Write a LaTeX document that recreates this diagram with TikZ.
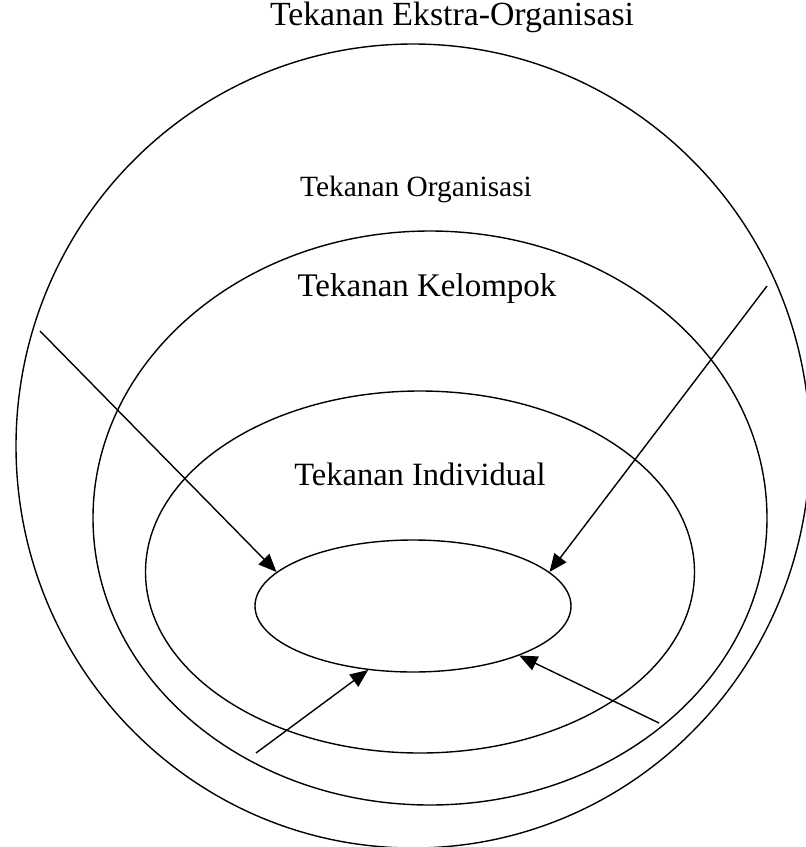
\documentclass[tikz,border=0pt]{standalone}
\usepackage{fontspec}
\setmainfont{Liberation Serif}
\usetikzlibrary{arrows.meta, shapes.geometric}

\begin{document}
\begin{tikzpicture}[
    x=1pt, y=-1pt,
    ring/.style={shape=ellipse, draw=black, line width=1.4pt, inner sep=0pt},
    lbl/.style={inner sep=0pt, font=\fontsize{32.5}{32.5}\selectfont},
    push/.style={line width=1.4pt, -{Triangle[length=18pt, width=15pt]}},
]
\useasboundingbox (0, 0) rectangle (806, 847);

\node[ring, minimum width=794, minimum height=804] (extra) at (413, 446) {};
\node[ring, minimum width=674, minimum height=574] (org) at (430, 518) {};
\node[ring, minimum width=549, minimum height=362] (group) at (420, 572) {};
\node[ring, minimum width=316, minimum height=132] (indiv) at (413, 606) {};

\node[lbl, font=\fontsize{33.8}{33.8}\selectfont] (textra) at (452, 17) {Tekanan Ekstra-Organisasi};
\node[lbl, font=\fontsize{29.4}{29.4}\selectfont] (torg) at (416, 189) {Tekanan Organisasi};
\node[lbl, font=\fontsize{33}{33}\selectfont] (tgroup) at (427, 289) {Tekanan Kelompok};
\node[lbl] (tindiv) at (420, 474) {Tekanan Individual};

\coordinate (s1) at (40, 331);
\coordinate (s2) at (767, 286);
\coordinate (s3) at (256, 753);
\coordinate (s4) at (659, 723);

\draw[push] (s1) -- (indiv.166);
\draw[push] (s2) -- (indiv.14);
\draw[push] (s3) -- (indiv.235);
\draw[push] (s4) -- (indiv.-25);
\end{tikzpicture}
\end{document}
